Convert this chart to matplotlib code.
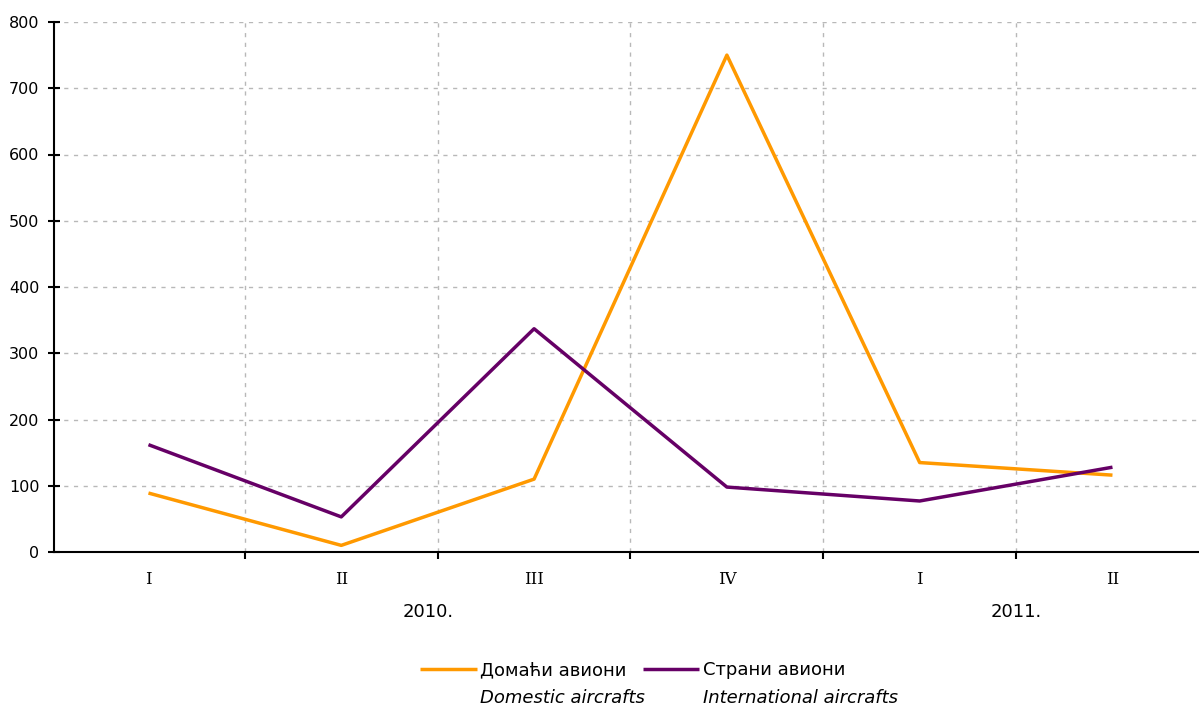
import matplotlib
matplotlib.use("Agg")
import matplotlib.pyplot as plt
import numpy as np

plt.rcParams["font.family"] = "DejaVu Sans"

QUARTERS = ['I', 'II', 'III', 'IV', 'I', 'II']
YEARS = ['2010.', '2011.']
YEAR_POS = [1.45, 4.5]
DOMESTIC = [89, 10, 110, 750, 135, 116]
FOREIGN = [162, 53, 337, 98, 77, 128]
LABELS = ['Домаћи авиони', 'Страни авиони']
LABELS_EN = ['Domestic aircrafts', 'International aircrafts']
COLORS = ['#FF9900', '#660066']

fig = plt.figure(figsize=(11.99, 7.09), dpi=100)
ax = fig.add_axes([54/1199, 1 - 552/709, 1 - 54/1199, 530/709])

x = np.arange(len(QUARTERS))
l1, = ax.plot(x, DOMESTIC, color=COLORS[0], linewidth=2.5, solid_capstyle='butt')
l2, = ax.plot(x, FOREIGN, color=COLORS[1], linewidth=2.5, solid_capstyle='butt')

ax.set_yticks(np.arange(0, 801, 100))
ax.set_xticks(x)
ax.set_xticklabels(QUARTERS, family='DejaVu Serif', fontsize=12)
ax.set_xticks(np.arange(0.5, 6, 1), minor=True)
# set limits after ticks, set_xticks widens the view
ax.set_xlim(-0.49, (1199 - 54) / 192.8 - 0.49)
ax.set_ylim(0, 800)
ax.tick_params(axis='x', which='major', length=0, pad=14)
ax.tick_params(axis='x', which='minor', length=5, width=1.5, direction='out')
ax.tick_params(axis='y', length=9, width=1.5, direction='inout', labelsize=11.5, pad=6)

for s in ['top', 'right']:
	ax.spines[s].set_visible(False)
for s in ['left', 'bottom']:
	ax.spines[s].set_linewidth(1.5)

ax.grid(axis='x', which='minor', color='#b8b8b8', linestyle=(0, (3, 4)), linewidth=1)
ax.grid(axis='y', which='major', color='#b8b8b8', linestyle=(0, (3, 4)), linewidth=1)
ax.set_axisbelow(True)

for yr, pos in zip(YEARS, YEAR_POS):
	ax.annotate(yr, xy=(pos, -0.113), xycoords=('data', 'axes fraction'),
		ha='center', va='center', fontsize=13)

leg = fig.legend([l1, l2], LABELS, loc='center left', bbox_to_anchor=(420/1199, 1 - 670/709),
	ncol=2, frameon=False, fontsize=13, handlelength=3.15, handletextpad=0.17,
	columnspacing=0.9, borderpad=0, borderaxespad=0)

fig.text(480/1199, 1 - 698/709, LABELS_EN[0], style='italic', fontsize=13, ha='left', va='center')
fig.text(703/1199, 1 - 698/709, LABELS_EN[1], style='italic', fontsize=13, ha='left', va='center')

fig.savefig('out.png', dpi=100)
